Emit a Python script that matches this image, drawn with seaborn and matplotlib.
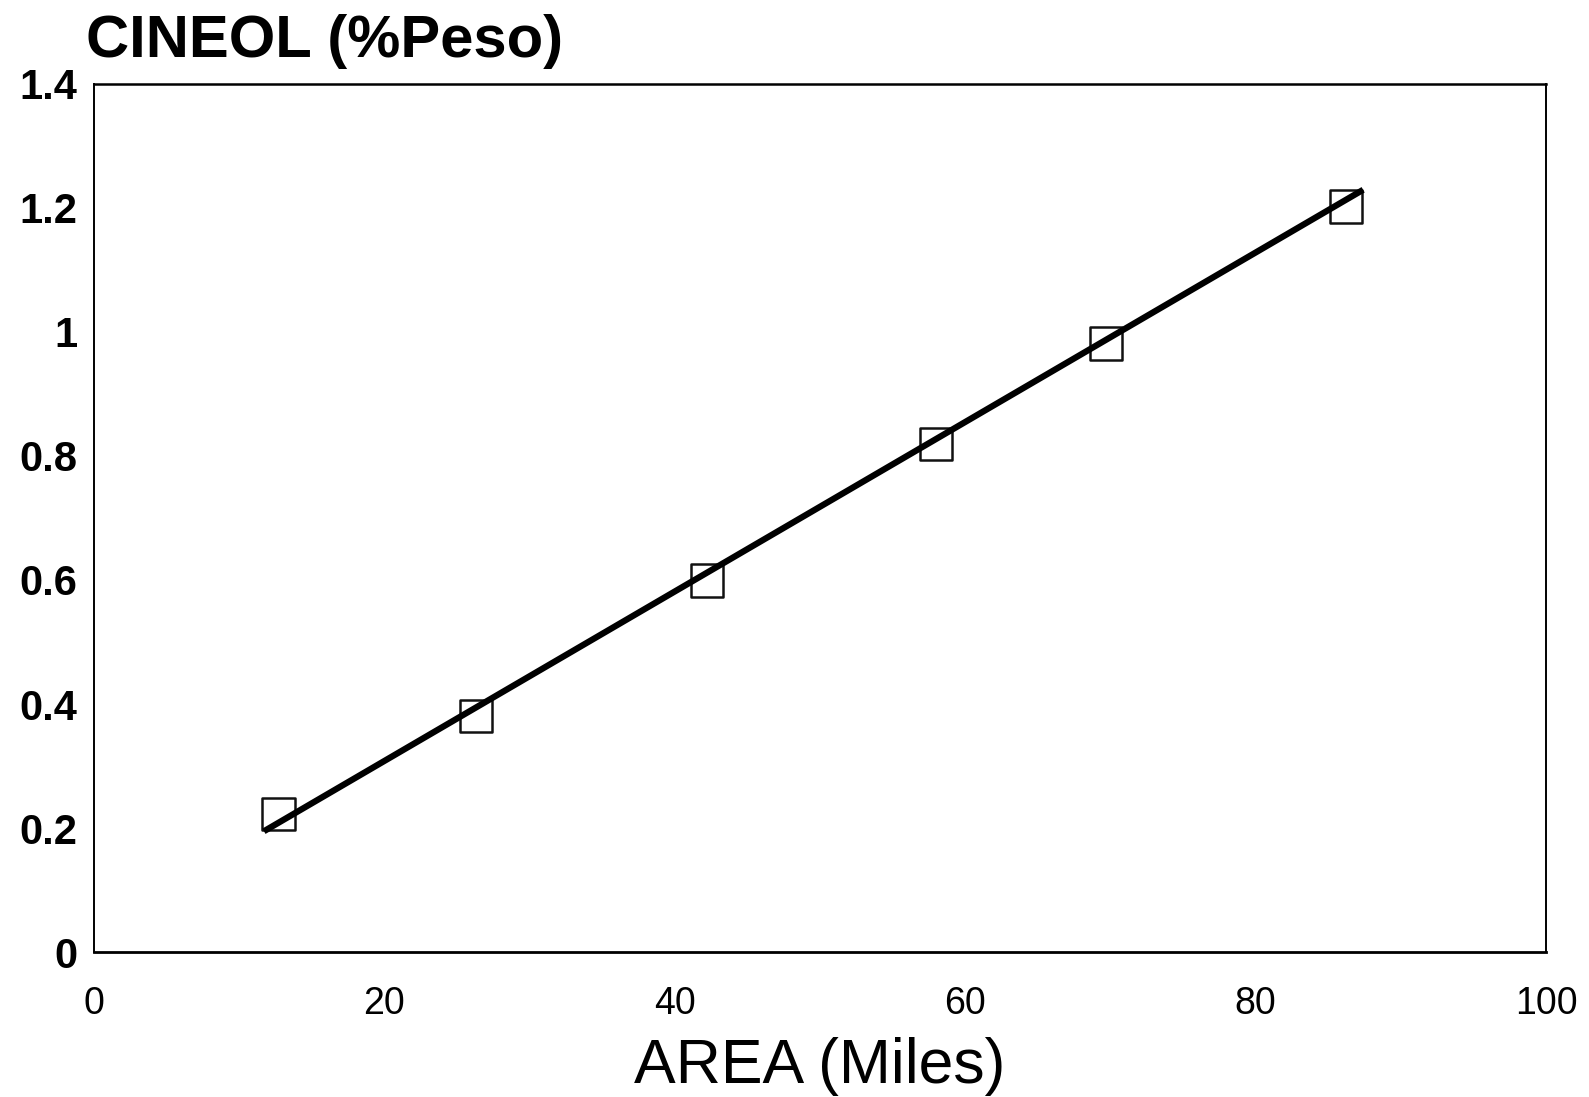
import matplotlib
matplotlib.use("Agg")
import matplotlib.pyplot as plt
from matplotlib.markers import MarkerStyle
import seaborn as sns
import pandas as pd

# Data
area_miles = [12.7, 26.3, 42.2, 58.0, 69.7, 86.2]
cineol_pct = [0.223, 0.381, 0.599, 0.819, 0.981, 1.202]
fit_x = [11.7, 87.4]
fit_y = [0.195, 1.229]

x_ticks = [0, 20, 40, 60, 80, 100]
y_ticks = [0, 0.2, 0.4, 0.6, 0.8, 1.0, 1.2, 1.4]
y_tick_labels = ["0", "0.2", "0.4", "0.6", "0.8", "1", "1.2", "1.4"]

title_text = "CINEOL (%Peso)"
xlabel_text = "AREA (Miles)"

sns.set_theme(style="white")
plt.rcParams['font.family'] = ['Liberation Sans', 'DejaVu Sans']
plt.rcParams['text.color'] = 'black'
plt.rcParams['xtick.color'] = 'black'
plt.rcParams['ytick.color'] = 'black'
plt.rcParams['axes.labelcolor'] = 'black'

pts = pd.DataFrame({"x": area_miles, "y": cineol_pct})
fit = pd.DataFrame({"x": fit_x, "y": fit_y})

fig = plt.figure(figsize=(15.89, 10.97), dpi=100)
ax = fig.add_axes([0.0592, 0.132, 0.9138, 0.7917])

marker = MarkerStyle('s', joinstyle='round')
sns.scatterplot(data=pts, x="x", y="y", ax=ax, marker=marker, s=540,
                facecolor="none", edgecolor="#111111", linewidth=1.8, zorder=3)
sns.lineplot(data=fit, x="x", y="y", ax=ax, color="black", linewidth=4.5,
             solid_capstyle="butt", zorder=4)

ax.set_xlim(0, 100)
ax.set_ylim(0, 1.4)
ax.set_xticks(x_ticks)
ax.set_xticklabels([str(t) for t in x_ticks], fontsize=27)
ax.set_yticks(y_ticks)
ax.set_yticklabels(y_tick_labels, fontsize=30, fontweight="bold")
ax.tick_params(axis="both", direction="in", length=8, width=1.2, color="black",
               labelcolor="black")
ax.tick_params(axis="x", pad=24)
ax.tick_params(axis="y", pad=12)

for side, sp in ax.spines.items():
    sp.set_visible(True)
    sp.set_color("black")
    sp.set_linewidth(1.4)
ax.spines["bottom"].set_linewidth(2.0)
ax.spines["top"].set_linewidth(1.8)

ax.set_xlabel(xlabel_text, fontsize=45, color="black")
ax.xaxis.set_label_coords(0.5, -0.098)
ax.set_ylabel("")

fig.text(0.054, 0.948, title_text, fontsize=43, fontweight="bold",
         ha="left", va="baseline", color="black")

fig.savefig("out.png", dpi=100, facecolor="white")
